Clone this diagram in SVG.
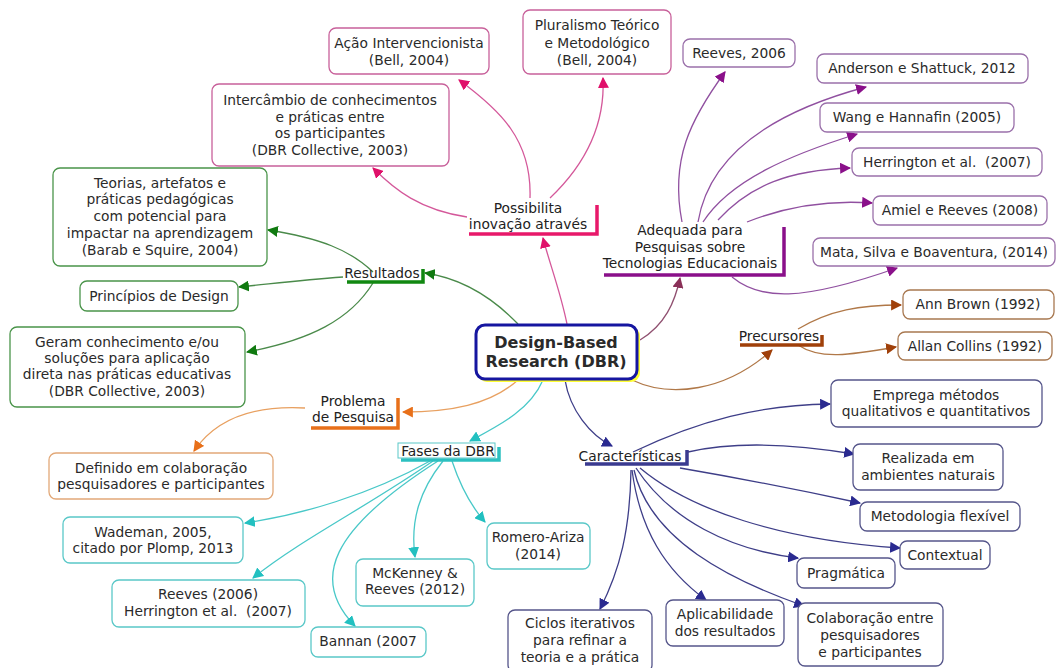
<svg xmlns="http://www.w3.org/2000/svg" width="1057" height="668" viewBox="0 0 1057 668">
<style>
text{font-family:"DejaVu Sans","Verdana",sans-serif;font-size:13.8px;fill:#2a2a2a;text-anchor:middle}
.box{fill:#fff;stroke-width:1.3}
.pk{stroke:#c8609a}.gr{stroke:#4a944a}.or{stroke:#e2a878}.tl{stroke:#5ac8c8}.nv{stroke:#55558a}.pu{stroke:#9a70aa}.br{stroke:#a87850}
.c{fill:none;stroke-width:1.3}
.cpk{stroke:#d4589a}.cgr{stroke:#4a8a4a}.cor{stroke:#e8a060}.ctl{stroke:#48c8c8}.cnv{stroke:#3e3e88}.cpu{stroke:#9050a0}.cbr{stroke:#b07848}.cmr{stroke:#905070}
.ul{fill:none;stroke-width:3.5}
.lab{fill:#222}
</style>
<defs>
<marker id="aPk" viewBox="0 0 10 10" refX="9" refY="5" markerWidth="11" markerHeight="11" markerUnits="userSpaceOnUse" orient="auto"><path d="M0,0 L10,5 L0,10 z" fill="#e0106a"/></marker>
<marker id="aGr" viewBox="0 0 10 10" refX="9" refY="5" markerWidth="11" markerHeight="11" markerUnits="userSpaceOnUse" orient="auto"><path d="M0,0 L10,5 L0,10 z" fill="#107a10"/></marker>
<marker id="aOr" viewBox="0 0 10 10" refX="9" refY="5" markerWidth="11" markerHeight="11" markerUnits="userSpaceOnUse" orient="auto"><path d="M0,0 L10,5 L0,10 z" fill="#e8701a"/></marker>
<marker id="aTl" viewBox="0 0 10 10" refX="9" refY="5" markerWidth="11" markerHeight="11" markerUnits="userSpaceOnUse" orient="auto"><path d="M0,0 L10,5 L0,10 z" fill="#22c0c0"/></marker>
<marker id="aNv" viewBox="0 0 10 10" refX="9" refY="5" markerWidth="11" markerHeight="11" markerUnits="userSpaceOnUse" orient="auto"><path d="M0,0 L10,5 L0,10 z" fill="#2a2a90"/></marker>
<marker id="aPu" viewBox="0 0 10 10" refX="9" refY="5" markerWidth="11" markerHeight="11" markerUnits="userSpaceOnUse" orient="auto"><path d="M0,0 L10,5 L0,10 z" fill="#8a108a"/></marker>
<marker id="aBr" viewBox="0 0 10 10" refX="9" refY="5" markerWidth="11" markerHeight="11" markerUnits="userSpaceOnUse" orient="auto"><path d="M0,0 L10,5 L0,10 z" fill="#a0400a"/></marker>
<marker id="aMr" viewBox="0 0 10 10" refX="9" refY="5" markerWidth="11" markerHeight="11" markerUnits="userSpaceOnUse" orient="auto"><path d="M0,0 L10,5 L0,10 z" fill="#8a3058"/></marker>
</defs>
<rect width="1057" height="668" fill="#fff"/>

<g id="connectors">
<path class="c cpk" d="M567,324 C560,290 550,265 543,238" marker-end="url(#aPk)"/>
<path class="c cmr" d="M640,340 C665,325 675,302 680,278" marker-end="url(#aMr)"/>
<path class="c cgr" d="M518,324 C490,295 460,278 425,273" marker-end="url(#aGr)"/>
<path class="c cor" d="M518,380 C490,405 450,412 403,412" marker-end="url(#aOr)"/>
<path class="c ctl" d="M543,380 C530,410 500,425 470,441" marker-end="url(#aTl)"/>
<path class="c cnv" d="M565,380 C570,410 590,435 612,446" marker-end="url(#aNv)"/>
<path class="c cbr" d="M632,380 C670,398 725,392 772,350" marker-end="url(#aBr)"/>
<path class="c cpk" d="M530,198 C532,140 500,110 459,80" marker-end="url(#aPk)"/>
<path class="c cpk" d="M550,198 C590,160 605,120 603,78" marker-end="url(#aPk)"/>
<path class="c cpk" d="M467,217 C420,210 395,190 373,168" marker-end="url(#aPk)"/>
<path class="c cpu" d="M682,222 C670,160 690,120 725,72" marker-end="url(#aPu)"/>
<path class="c cpu" d="M698,222 C710,150 780,110 866,87" marker-end="url(#aPu)"/>
<path class="c cpu" d="M703,222 C730,180 790,155 857,134" marker-end="url(#aPu)"/>
<path class="c cpu" d="M718,220 C750,185 790,170 850,168" marker-end="url(#aPu)"/>
<path class="c cpu" d="M747,222 C790,205 830,200 872,203" marker-end="url(#aPu)"/>
<path class="c cpu" d="M732,277 C760,300 800,302 897,268" marker-end="url(#aPu)"/>
<path class="c cgr" d="M373,272 C350,250 320,238 268,230" marker-end="url(#aGr)"/>
<path class="c cgr" d="M343,277 C300,280 270,284 239,287" marker-end="url(#aGr)"/>
<path class="c cgr" d="M373,283 C350,320 310,340 247,352" marker-end="url(#aGr)"/>
<path class="c cor" d="M305,408 C250,405 215,420 194,451" marker-end="url(#aOr)"/>
<path class="c ctl" d="M430,461 C370,495 300,515 245,523" marker-end="url(#aTl)"/>
<path class="c ctl" d="M433,461 C370,505 300,540 253,578" marker-end="url(#aTl)"/>
<path class="c ctl" d="M438,461 C330,530 310,580 355,626" marker-end="url(#aTl)"/>
<path class="c ctl" d="M443,461 C420,490 410,520 415,557" marker-end="url(#aTl)"/>
<path class="c ctl" d="M452,461 C460,485 470,505 485,522" marker-end="url(#aTl)"/>
<path class="c cbr" d="M798,329 C830,310 860,305 901,305" marker-end="url(#aBr)"/>
<path class="c cbr" d="M798,345 C820,360 850,355 896,347" marker-end="url(#aBr)"/>
<path class="c cnv" d="M633,452 C700,420 760,405 830,404" marker-end="url(#aNv)"/>
<path class="c cnv" d="M688,452 C740,440 800,445 854,454" marker-end="url(#aNv)"/>
<path class="c cnv" d="M680,468 C750,480 800,490 860,503" marker-end="url(#aNv)"/>
<path class="c cnv" d="M640,468 C690,510 780,540 900,548" marker-end="url(#aNv)"/>
<path class="c cnv" d="M636,468 C670,520 730,550 798,558" marker-end="url(#aNv)"/>
<path class="c cnv" d="M634,470 C650,540 730,580 804,606" marker-end="url(#aNv)"/>
<path class="c cnv" d="M632,470 C640,530 665,570 706,600" marker-end="url(#aNv)"/>
<path class="c cnv" d="M631,470 C630,530 620,570 600,609" marker-end="url(#aNv)"/>
</g>

<g id="center">
<rect x="478" y="327" width="162" height="55" rx="9" fill="#ffff33"/>
<rect x="476" y="325" width="161" height="54" rx="9" fill="#fff" stroke="#1616a0" stroke-width="3"/>
<text x="556" y="348" style="font-weight:bold;font-size:16px" fill="#111">Design-Based</text>
<text x="556" y="367" style="font-weight:bold;font-size:16px" fill="#111">Research (DBR)</text>
</g>

<g id="possibilita">
<path class="ul" d="M469,234 H597 V205" stroke="#e8186a"/>
<text class="lab" x="528" y="213">Possibilita</text>
<text class="lab" x="528" y="229">inovação através</text>
</g>
<g id="acao">
<rect class="box pk" x="329" y="28" width="160" height="46" rx="7"/>
<text x="409" y="48">Ação Intervencionista</text>
<text x="409" y="65">(Bell, 2004)</text>
</g>
<g id="pluralismo">
<rect class="box pk" x="523" y="10" width="148" height="64" rx="7"/>
<text x="597" y="30">Pluralismo Teórico</text>
<text x="597" y="48">e Metodológico</text>
<text x="597" y="65">(Bell, 2004)</text>
</g>
<g id="intercambio">
<rect class="box pk" x="212" y="84" width="237" height="82" rx="7"/>
<text x="330" y="105">Intercâmbio de conhecimentos</text>
<text x="330" y="122">e práticas entre</text>
<text x="330" y="138">os participantes</text>
<text x="330" y="155">(DBR Collective, 2003)</text>
</g>

<g id="adequada">
<path class="ul" d="M604,275 H784 V227" stroke="#8a108a"/>
<text class="lab" x="690" y="235">Adequada para</text>
<text class="lab" x="690" y="252">Pesquisas sobre</text>
<text class="lab" x="690" y="268">Tecnologias Educacionais</text>
</g>
<g id="reeves2006">
<rect class="box pu" x="683" y="39" width="112" height="28" rx="7"/>
<text x="739" y="58">Reeves, 2006</text>
</g>
<g id="anderson">
<rect class="box pu" x="817" y="54" width="211" height="29" rx="7"/>
<text x="922" y="73">Anderson e Shattuck, 2012</text>
</g>
<g id="wang">
<rect class="box pu" x="820" y="103" width="194" height="29" rx="7"/>
<text x="917" y="122">Wang e Hannafin (2005)</text>
</g>
<g id="herrington">
<rect class="box pu" x="852" y="148" width="190" height="28" rx="7"/>
<text x="947" y="167" xml:space="preserve">Herrington et al.  (2007)</text>
</g>
<g id="amiel">
<rect class="box pu" x="873" y="196" width="174" height="29" rx="7"/>
<text x="960" y="215">Amiel e Reeves (2008)</text>
</g>
<g id="mata">
<rect class="box pu" x="813" y="238" width="242" height="28" rx="7"/>
<text x="934" y="257">Mata, Silva e Boaventura, (2014)</text>
</g>

<g id="precursores">
<path class="ul" d="M740,345 H822 V335" stroke="#a0400a"/>
<text class="lab" x="779" y="341">Precursores</text>
</g>
<g id="annbrown">
<rect class="box br" x="903" y="290" width="151" height="29" rx="7"/>
<text x="978" y="309">Ann Brown (1992)</text>
</g>
<g id="allancollins">
<rect class="box br" x="898" y="332" width="154" height="28" rx="7"/>
<text x="975" y="351">Allan Collins (1992)</text>
</g>

<g id="resultados">
<path class="ul" d="M347,282 H423 V269" stroke="#118811"/>
<text class="lab" x="382" y="278">Resultados</text>
</g>
<g id="teorias">
<rect class="box gr" x="53" y="168" width="214" height="98" rx="7"/>
<text x="160" y="188">Teorias, artefatos e</text>
<text x="160" y="204">práticas pedagógicas</text>
<text x="160" y="221">com potencial para</text>
<text x="160" y="238">impactar na aprendizagem</text>
<text x="160" y="255">(Barab e Squire, 2004)</text>
</g>
<g id="principios">
<rect class="box gr" x="80" y="281" width="158" height="30" rx="7"/>
<text x="159" y="301">Princípios de Design</text>
</g>
<g id="geram">
<rect class="box gr" x="10" y="327" width="235" height="80" rx="7"/>
<text x="127" y="347">Geram conhecimento e/ou</text>
<text x="127" y="363">soluções para aplicação</text>
<text x="127" y="379">direta nas práticas educativas</text>
<text x="127" y="396">(DBR Collective, 2003)</text>
</g>

<g id="problema">
<path class="ul" d="M311,428 H398 V398" stroke="#e8701a"/>
<text class="lab" x="353" y="406">Problema</text>
<text class="lab" x="353" y="422">de Pesquisa</text>
</g>
<g id="definido">
<rect class="box or" x="49" y="453" width="224" height="46" rx="7"/>
<text x="161" y="473">Definido em colaboração</text>
<text x="161" y="489">pesquisadores e participantes</text>
</g>

<g id="fases">
<path class="ul" d="M401,460 H499 V447" stroke="#2cc0c0"/>
<rect x="398" y="443" width="97" height="15" fill="#fff" stroke="#5ac8c8" stroke-width="1"/>
<text class="lab" x="448" y="456">Fases da DBR</text>
</g>
<g id="wademan">
<rect class="box tl" x="63" y="517" width="180" height="46" rx="7"/>
<text x="153" y="537">Wademan, 2005,</text>
<text x="153" y="553">citado por Plomp, 2013</text>
</g>
<g id="reevesherrington">
<rect class="box tl" x="112" y="580" width="193" height="47" rx="7"/>
<text x="208" y="599">Reeves (2006)</text>
<text x="208" y="616" xml:space="preserve">Herrington et al.  (2007)</text>
</g>
<g id="bannan">
<rect class="box tl" x="311" y="627" width="115" height="30" rx="7"/>
<text x="368" y="646">Bannan (2007</text>
</g>
<g id="mckenney">
<rect class="box tl" x="356" y="559" width="118" height="47" rx="7"/>
<text x="415" y="578">McKenney &amp;</text>
<text x="415" y="594">Reeves (2012)</text>
</g>
<g id="romero">
<rect class="box tl" x="487" y="523" width="103" height="46" rx="7"/>
<text x="538" y="542">Romero-Ariza</text>
<text x="538" y="559">(2014)</text>
</g>

<g id="caracteristicas">
<path class="ul" d="M585,464 H687 V450" stroke="#3a3a90"/>
<text class="lab" x="630" y="461">Características</text>
</g>
<g id="emprega">
<rect class="box nv" x="831" y="380" width="211" height="47" rx="7"/>
<text x="936" y="400">Emprega métodos</text>
<text x="936" y="416">qualitativos e quantitativos</text>
</g>
<g id="realizada">
<rect class="box nv" x="853" y="444" width="150" height="46" rx="7"/>
<text x="928" y="463">Realizada em</text>
<text x="928" y="480">ambientes naturais</text>
</g>
<g id="metodologia">
<rect class="box nv" x="860" y="502" width="160" height="29" rx="7"/>
<text x="940" y="521">Metodologia flexível</text>
</g>
<g id="contextual">
<rect class="box nv" x="900" y="541" width="90" height="28" rx="7"/>
<text x="945" y="560">Contextual</text>
</g>
<g id="pragmatica">
<rect class="box nv" x="797" y="558" width="98" height="30" rx="7"/>
<text x="846" y="578">Pragmática</text>
</g>
<g id="colaboracao">
<rect class="box nv" x="798" y="603" width="145" height="63" rx="7"/>
<text x="870" y="623">Colaboração entre</text>
<text x="870" y="640">pesquisadores</text>
<text x="870" y="657">e participantes</text>
</g>
<g id="aplicabilidade">
<rect class="box nv" x="666" y="600" width="118" height="46" rx="7"/>
<text x="725" y="619">Aplicabilidade</text>
<text x="725" y="636">dos resultados</text>
</g>
<g id="ciclos">
<rect class="box nv" x="508" y="610" width="144" height="62" rx="7"/>
<text x="580" y="628">Ciclos iterativos</text>
<text x="580" y="645">para refinar a</text>
<text x="580" y="662">teoria e a prática</text>
</g>
</svg>
